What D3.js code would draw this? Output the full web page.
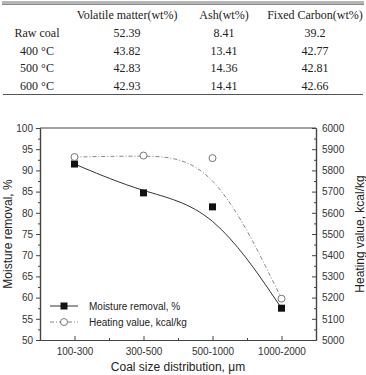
<!DOCTYPE html>
<html>
<head>
<meta charset="utf-8">
<script src="https://cdn.jsdelivr.net/npm/d3@7"></script>
<style>
  body { margin: 0; background: #fff; }
  svg { display: block; }
</style>
</head>
<body>
<svg id="chart" width="366" height="375"></svg>
<script>
// table data
const tableHeaders = ['Volatile matter(wt%)', 'Ash(wt%)', 'Fixed Carbon(wt%)'];
const tableRows = ['Raw coal', '400 \u00B0C', '500 \u00B0C', '600 \u00B0C'];
const volatileMatter = ['52.39', '43.82', '42.83', '42.93'];
const ashContent = ['8.41', '13.41', '14.36', '14.41'];
const fixedCarbon = ['39.2', '42.77', '42.81', '42.66'];

// chart data
const sizeCategories = ['100-300', '300-500', '500-1000', '1000-2000'];
const moistureRemoval = [91.5, 84.7, 81.4, 57.5];
const heatingValue = [5863, 5870, 5858, 5195];

const leftTicks = d3.range(50, 101, 5);
const rightTicks = d3.range(5000, 6001, 100);

const svg = d3.select('#chart');

const TABLE_COLS = [37, 127, 224, 315];
const TABLE_ROW_Y = [33, 50.5, 68, 86];

// ---- table ----
svg.append('rect').attr('x', 2).attr('y', 1).attr('width', 362).attr('height', 3.5).attr('fill', '#b5b5b5');
svg.append('line').attr('x1', 2).attr('x2', 364).attr('y1', 4.5).attr('y2', 4.5).attr('stroke', '#777').attr('stroke-width', 0.8);
svg.append('line').attr('x1', 3).attr('x2', 363).attr('y1', 94.5).attr('y2', 94.5).attr('stroke', '#555').attr('stroke-width', 1.2);

const tableText = svg.append('g')
    .attr('font-family', '"Liberation Serif", "DejaVu Serif", serif')
    .attr('font-size', 12)
    .attr('fill', '#222')
    .attr('text-anchor', 'middle');

tableHeaders.forEach((h, i) => {
    tableText.append('text').attr('x', TABLE_COLS[i + 1]).attr('y', 19).text(h);
});
tableRows.forEach((r, i) => {
    const ty = TABLE_ROW_Y[i] + 4;
    tableText.append('text').attr('x', TABLE_COLS[0]).attr('y', ty).text(r);
    tableText.append('text').attr('x', TABLE_COLS[1]).attr('y', ty).text(volatileMatter[i]);
    tableText.append('text').attr('x', TABLE_COLS[2]).attr('y', ty).text(ashContent[i]);
    tableText.append('text').attr('x', TABLE_COLS[3]).attr('y', ty).text(fixedCarbon[i]);
});

// ---- chart ----
const plotLeft = 40, plotRight = 316, plotTop = 128, plotBottom = 340;

const x = d3.scalePoint().domain(sizeCategories).range([plotLeft, plotRight]).padding(0.5);
const xMinor = d3.scaleLinear().domain([0, 4]).range([plotLeft, plotRight]);
const y = d3.scaleLinear().domain([50, 100]).range([plotBottom, plotTop]);
const y2 = d3.scaleLinear().domain([5000, 6000]).range([plotBottom, plotTop]);

const font = '"Liberation Sans", Arial, sans-serif';
const axisColor = '#444';

function styleAxis(g) {
    g.selectAll('path').attr('stroke', axisColor).attr('stroke-width', 1.2);
    g.selectAll('line').attr('stroke', axisColor);
    g.selectAll('text').attr('font-family', font).attr('font-size', 10).attr('fill', '#333');
}

// frame top
svg.append('line').attr('x1', plotLeft).attr('x2', plotRight).attr('y1', plotTop).attr('y2', plotTop)
    .attr('stroke', axisColor).attr('stroke-width', 1.2);

// left axis (ticks point out)
svg.append('g').attr('transform', `translate(${plotLeft},0)`)
    .call(d3.axisLeft(y).tickValues(d3.range(52.5, 100, 5)).tickSize(2).tickFormat('').tickSizeOuter(0))
    .call(styleAxis);
svg.append('g').attr('transform', `translate(${plotLeft},0)`)
    .call(d3.axisLeft(y).tickValues(leftTicks).tickSize(4).tickPadding(3).tickSizeOuter(0))
    .call(styleAxis);

// right axis (ticks point into the plot)
svg.append('g').attr('transform', `translate(${plotRight},0)`)
    .call(d3.axisRight(y2).tickValues(d3.range(5050, 6000, 100)).tickSize(-2).tickFormat('').tickSizeOuter(0))
    .call(styleAxis);
svg.append('g').attr('transform', `translate(${plotRight},0)`)
    .call(d3.axisRight(y2).tickValues(rightTicks).tickFormat(d3.format('d')).tickSize(-4).tickPadding(6).tickSizeOuter(0))
    .call(styleAxis);

// bottom axis
svg.append('g').attr('transform', `translate(0,${plotBottom})`)
    .call(d3.axisBottom(xMinor).tickValues([1, 2, 3]).tickSize(-2).tickFormat('').tickSizeOuter(0))
    .call(styleAxis);
svg.append('g').attr('transform', `translate(0,${plotBottom})`)
    .call(d3.axisBottom(x).tickSize(-4).tickPadding(8).tickSizeOuter(0))
    .call(styleAxis);

// axis titles
svg.append('text')
    .attr('transform', `translate(12,${(plotTop + plotBottom) / 2}) rotate(-90)`)
    .attr('text-anchor', 'middle')
    .attr('font-family', font).attr('font-size', 12).attr('fill', '#222')
    .text('Moisture removal, %');
svg.append('text')
    .attr('transform', `translate(364,${(plotTop + plotBottom) / 2}) rotate(-90)`)
    .attr('text-anchor', 'middle')
    .attr('font-family', font).attr('font-size', 12).attr('fill', '#222')
    .text('Heating value, kcal/kg');
svg.append('text')
    .attr('x', (plotLeft + plotRight) / 2).attr('y', 371)
    .attr('text-anchor', 'middle')
    .attr('font-family', font).attr('font-size', 12).attr('fill', '#222')
    .text('Coal size distribution, \u03BCm');

// curves
const moistPts = sizeCategories.map((c, i) => [x(c), y(moistureRemoval[i])]);
const heatPts = sizeCategories.map((c, i) => [x(c), y2(heatingValue[i])]);
const line = d3.line().curve(d3.curveBasis);

svg.append('path').attr('d', line(heatPts))
    .attr('fill', 'none').attr('stroke', '#777').attr('stroke-width', 0.9)
    .attr('stroke-dasharray', '4,2,1,2');
svg.append('path').attr('d', line(moistPts))
    .attr('fill', 'none').attr('stroke', '#333').attr('stroke-width', 1);

// markers
svg.append('g').selectAll('rect').data(moistPts).join('rect')
    .attr('x', (d) => d[0] - 3.5).attr('y', (d) => d[1] - 3.5)
    .attr('width', 7).attr('height', 7).attr('fill', '#111');
svg.append('g').selectAll('circle').data(heatPts).join('circle')
    .attr('cx', (d) => d[0]).attr('cy', (d) => d[1]).attr('r', 3.5)
    .attr('fill', '#fff').attr('stroke', '#666').attr('stroke-width', 0.9);

// legend
const legend = svg.append('g').attr('font-family', font).attr('font-size', 10).attr('fill', '#222');
const legY = [306, 322];
legend.append('line').attr('x1', 50).attr('x2', 78).attr('y1', legY[0]).attr('y2', legY[0]).attr('stroke', '#333');
legend.append('rect').attr('x', 60.5).attr('y', legY[0] - 3.5).attr('width', 7).attr('height', 7).attr('fill', '#111');
legend.append('text').attr('x', 89).attr('y', legY[0] + 4).text('Moisture removal, %');
legend.append('line').attr('x1', 50).attr('x2', 78).attr('y1', legY[1]).attr('y2', legY[1])
    .attr('stroke', '#777').attr('stroke-width', 0.9).attr('stroke-dasharray', '4,2,1,2');
legend.append('circle').attr('cx', 64).attr('cy', legY[1]).attr('r', 3.5)
    .attr('fill', '#fff').attr('stroke', '#666').attr('stroke-width', 0.9);
legend.append('text').attr('x', 89).attr('y', legY[1] + 4).text('Heating value, kcal/kg');
</script>
</body>
</html>
